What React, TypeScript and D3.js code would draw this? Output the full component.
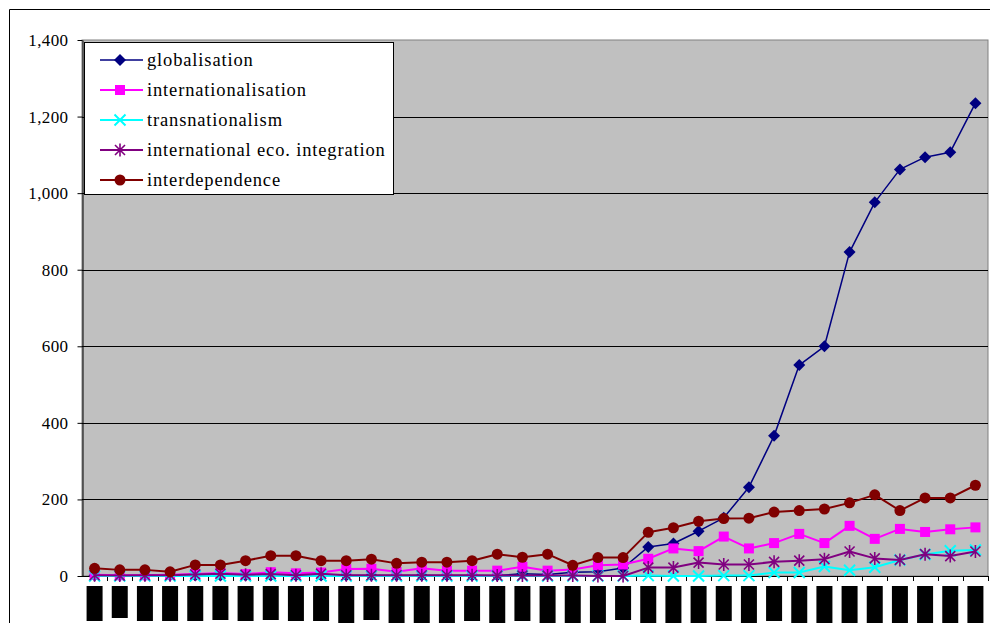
import { useEffect, useRef } from 'react';
import * as d3 from 'd3';

// 36 yearly observations; the category labels are blacked out in the source
const categories = d3.range(36).map((i) => `c${i + 1}`);
// approximate bottom edge of each redacted label box
const labelBottom = [
  621, 618, 621, 621, 621, 620, 621, 620, 621, 621, 623, 620, 623, 623, 623, 621, 623, 621,
  623, 623, 623, 620, 623, 623, 623, 621, 623, 621, 623, 623, 623, 623, 623, 623, 623, 623,
];

const globalisation = [
  1, 1, 1, 1, 1, 1, 1, 1, 1, 1, 1, 1, 1, 1, 1, 1, 1, 6, 4, 10, 11, 21, 76, 85, 117, 152, 232, 366,
  551, 600, 846, 976, 1062, 1094, 1107, 1235,
];
const internationalisation = [
  3, 2, 2, 3, 5, 8, 5, 10, 7, 9, 18, 19, 11, 20, 14, 14, 14, 24, 14, 17, 28, 30, 45, 72, 65, 103,
  72, 86, 110, 86, 131, 97, 123, 115, 122, 127,
];
const transnationalism = [
  0, 0, 0, 0, 0, 0, 0, 0, 0, 0, 0, 0, 0, 0, 0, 0, 0, 0, 0, 0, 0, 0, 1, 0, 0, 1, 1, 9, 9, 25, 15,
  23, 42, 56, 66, 68,
];
const intEcoIntegration = [
  2, 1, 2, 2, 4, 6, 3, 5, 2, 6, 2, 2, 2, 2, 2, 2, 1, 1, 1, 1, 0, 0, 22, 22, 35, 30, 30, 37, 40, 44,
  64, 46, 42, 57, 52, 64,
];
const interdependence = [
  20, 16, 16, 11, 29, 29, 40, 53, 53, 40, 40, 44, 33, 36, 36, 40, 57, 49, 57, 28, 48, 48, 114, 126,
  143, 150, 151, 167, 171, 175, 191, 212, 171, 204, 204, 237,
];

const yTicks = [0, 200, 400, 600, 800, 1000, 1200, 1400];

type MarkerKind = 'diamond' | 'square' | 'cross' | 'asterisk' | 'circle';

interface Series {
  name: string;
  values: number[];
  color: string;
  marker: MarkerKind;
  width: number;
}

const series: Series[] = [
  { name: 'globalisation', values: globalisation, color: '#000080', marker: 'diamond', width: 1.5 },
  { name: 'internationalisation', values: internationalisation, color: '#FF00FF', marker: 'square', width: 2 },
  { name: 'transnationalism', values: transnationalism, color: '#00FFFF', marker: 'cross', width: 2 },
  { name: 'international eco. integration', values: intEcoIntegration, color: '#800080', marker: 'asterisk', width: 2 },
  { name: 'interdependence', values: interdependence, color: '#800000', marker: 'circle', width: 2 },
];

const serif = '"Liberation Serif", "Times New Roman", serif';

function drawMarker(
  g: d3.Selection<SVGGElement, unknown, null, undefined>,
  kind: MarkerKind,
  x: number,
  y: number,
  color: string,
) {
  if (kind === 'diamond') {
    g.append('path')
      .attr('d', `M${x},${y - 6}L${x + 6},${y}L${x},${y + 6}L${x - 6},${y}Z`)
      .attr('fill', color);
  } else if (kind === 'square') {
    g.append('rect').attr('x', x - 5).attr('y', y - 5).attr('width', 10).attr('height', 10).attr('fill', color);
  } else if (kind === 'circle') {
    g.append('circle').attr('cx', x).attr('cy', y).attr('r', 5.5).attr('fill', color);
  } else if (kind === 'cross') {
    g.append('path')
      .attr('d', `M${x - 5.5},${y - 5.5}L${x + 5.5},${y + 5.5}M${x - 5.5},${y + 5.5}L${x + 5.5},${y - 5.5}`)
      .attr('stroke', color)
      .attr('stroke-width', 2);
  } else {
    g.append('path')
      .attr(
        'd',
        `M${x - 5},${y - 5}L${x + 5},${y + 5}M${x - 5},${y + 5}L${x + 5},${y - 5}M${x},${y - 6.5}L${x},${y + 6.5}`,
      )
      .attr('stroke', color)
      .attr('stroke-width', 1.6);
  }
}

function TermsChart() {
  const svgRef = useRef<SVGSVGElement | null>(null);
  const width = 990;
  const height = 623;
  const plot = { left: 82, right: 988, top: 40, bottom: 576 };

  useEffect(() => {
    const svg = d3.select(svgRef.current);
    svg.selectAll('*').remove();

    const x = d3.scaleBand<string>().domain(categories).range([plot.left, plot.right]);
    const y = d3.scaleLinear().domain([0, 1400]).range([plot.bottom, plot.top]);
    const cx = (c: string) => (x(c) ?? 0) + x.bandwidth() / 2;

    // outer chart frame (only top and left edges are in view)
    svg.append('path').attr('d', 'M9.5,623V9.5H990').attr('fill', 'none').attr('stroke', '#000');

    svg
      .append('rect')
      .attr('x', plot.left)
      .attr('y', plot.top)
      .attr('width', plot.right - plot.left)
      .attr('height', plot.bottom - plot.top)
      .attr('fill', '#C0C0C0')
      .attr('stroke', '#808080');

    // gridlines
    svg
      .append('g')
      .selectAll('line')
      .data(yTicks.slice(1, -1))
      .join('line')
      .attr('x1', plot.left)
      .attr('x2', plot.right)
      .attr('y1', (d) => Math.round(y(d)) + 0.5)
      .attr('y2', (d) => Math.round(y(d)) + 0.5)
      .attr('stroke', '#000');

    // y axis
    const yAxis = svg
      .append<SVGGElement>('g')
      .attr('transform', `translate(${plot.left + 0.5},0)`)
      .call(
        d3
          .axisLeft(y)
          .tickValues(yTicks)
          .tickSize(5)
          .tickPadding(9)
          .tickSizeOuter(0)
          .tickFormat((d) => d3.format(',')(d as number)),
      );
    yAxis.select('.domain').attr('stroke', '#000');
    yAxis.selectAll('line').attr('stroke', '#000');
    yAxis
      .selectAll('text')
      .attr('font-family', serif)
      .attr('font-size', 17)
      .attr('letter-spacing', 0.4)
      .attr('fill', '#000');

    // x axis with ticks at category boundaries
    const xg = svg.append('g');
    xg.append('line')
      .attr('x1', plot.left)
      .attr('x2', plot.right)
      .attr('y1', plot.bottom + 0.5)
      .attr('y2', plot.bottom + 0.5)
      .attr('stroke', '#000');
    xg.selectAll('line.tick')
      .data(categories.slice(1).concat(['end']))
      .join('line')
      .attr('class', 'tick')
      .attr('x1', (d) => Math.round(d === 'end' ? plot.right : (x(d) ?? 0)) + 0.5)
      .attr('x2', (d) => Math.round(d === 'end' ? plot.right : (x(d) ?? 0)) + 0.5)
      .attr('y1', plot.bottom)
      .attr('y2', plot.bottom + 5)
      .attr('stroke', '#000');

    // redacted category labels
    xg.selectAll('rect')
      .data(categories)
      .join('rect')
      .attr('x', (d) => cx(d) - 8)
      .attr('y', 586)
      .attr('width', 16)
      .attr('height', (_d, i) => labelBottom[i] - 586)
      .attr('fill', '#000');

    const line = d3
      .line<number>()
      .x((_d, i) => cx(categories[i]))
      .y((d) => y(d));

    series.forEach((s) => {
      const g = svg.append<SVGGElement>('g');
      g.append('path')
        .attr('d', line(s.values))
        .attr('fill', 'none')
        .attr('stroke', s.color)
        .attr('stroke-width', s.width)
        .attr('stroke-linejoin', 'round');
      s.values.forEach((v, i) => drawMarker(g, s.marker, cx(categories[i]), y(v), s.color));
    });

    // legend
    const legend = svg.append<SVGGElement>('g');
    legend
      .append('rect')
      .attr('x', 84.5)
      .attr('y', 42.5)
      .attr('width', 309)
      .attr('height', 152)
      .attr('fill', '#fff')
      .attr('stroke', '#000');
    series.forEach((s, i) => {
      const ly = 60 + i * 30;
      legend
        .append('line')
        .attr('x1', 100)
        .attr('x2', 143)
        .attr('y1', ly)
        .attr('y2', ly)
        .attr('stroke', s.color)
        .attr('stroke-width', s.width);
      const mg = legend.append<SVGGElement>('g');
      drawMarker(mg, s.marker, 120, ly, s.color);
      legend
        .append('text')
        .attr('x', 147)
        .attr('y', ly)
        .attr('dy', '0.35em')
        .attr('font-family', serif)
        .attr('font-size', 18.5)
        .attr('letter-spacing', 0.85)
        .attr('fill', '#000')
        .text(s.name);
    });
  }, []);

  return (
    <svg
      ref={svgRef}
      width={width}
      height={height}
      style={{ position: 'absolute', left: 0, top: 0, background: '#fff' }}
    />
  );
}

export default function App() {
  return <TermsChart />;
}
